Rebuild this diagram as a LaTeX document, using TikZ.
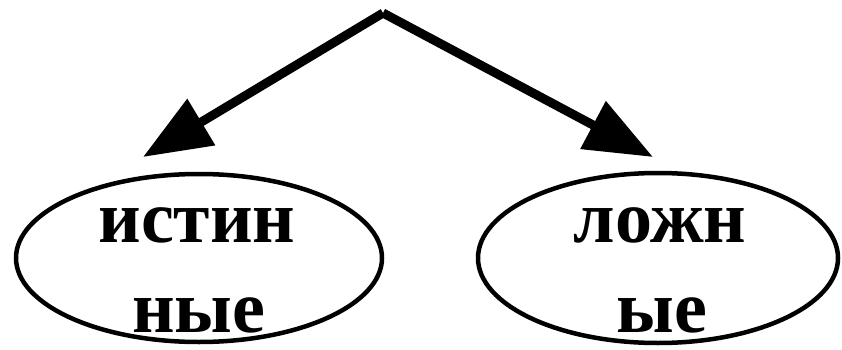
\documentclass[tikz,border=0pt]{standalone}
\usepackage{fontspec}
\setmainfont{Liberation Serif}
\usetikzlibrary{arrows.meta,shapes.geometric}
\tikzset{
  ell/.style={ellipse, draw, line width=4.5pt, inner sep=0pt},
  lbl/.style={font=\fontsize{74}{74}\selectfont\bfseries, inner sep=0pt, anchor=base},
  arr/.style={line width=9pt, -{Triangle[length=68pt,width=52pt]}}
}
\begin{document}
\begin{tikzpicture}[x=1pt,y=-1pt]
\useasboundingbox (0,0) rectangle (842,350);
\node[ell, minimum width=366pt, minimum height=168pt] (L) at (199,258) {};
\node[ell, minimum width=360pt, minimum height=170pt] (R) at (658,258) {};
\node[lbl] (l1) at (197,242) {истин};
\node[lbl] (l2) at (199,332) {ные};
\node[lbl] (r1) at (660,242) {ложн};
\node[lbl] (r2) at (662,332) {ые};
\coordinate (top) at (383,13);
\coordinate (tl) at (143,157);
\coordinate (tr) at (653,157);
\draw[arr] (top) -- (tl);
\draw[arr] (top) -- (tr);
\end{tikzpicture}
\end{document}
